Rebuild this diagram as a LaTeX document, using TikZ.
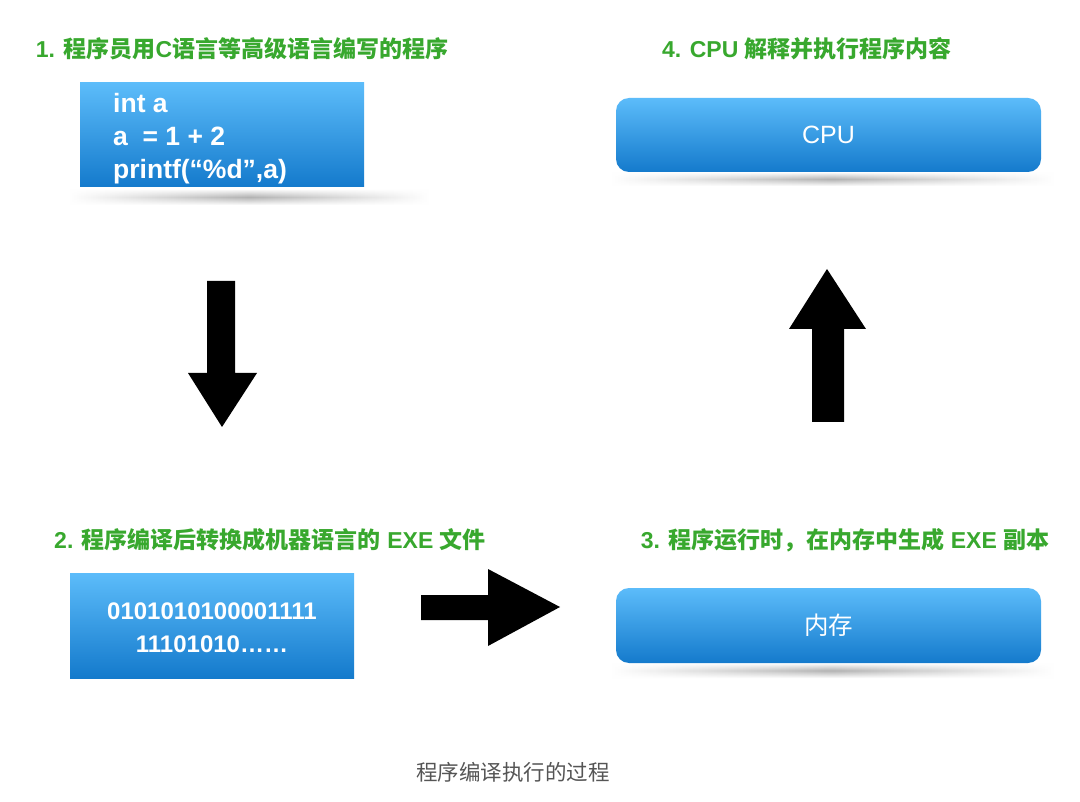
\documentclass[tikz,border=0pt]{standalone}
\usepackage{fontspec}
\setmainfont{Liberation Sans}
\newfontfamily\cjk{Noto Sans CJK SC}
\usetikzlibrary{fadings}
\definecolor{ttl}{RGB}{56,168,46}
\definecolor{btop}{RGB}{92,188,250}
\definecolor{bbot}{RGB}{20,122,204}
\definecolor{capgray}{RGB}{85,85,85}
\newcommand{\zh}[1]{{\cjk #1}}
\tikzfading[name=vfade, top color=transparent!100, bottom color=transparent!100, middle color=transparent!0]
\tikzset{
  title/.style={text=ttl, font=\bfseries\fontsize{23}{27}\selectfont, inner sep=0pt},
  bluebox/.style={top color=btop, bottom color=bbot, draw=none, text=white, inner sep=0pt},
  codebox/.style={bluebox, minimum width=284pt, minimum height=104pt},
  codetext/.style={text=white, inner sep=0pt, font=\bfseries\fontsize{26.5}{33}\selectfont, align=left},
  binbox/.style={bluebox, minimum width=284pt, minimum height=105pt},
  bintext/.style={text=white, inner sep=0pt, font=\bfseries\fontsize{24}{33}\selectfont, align=center},
  roundbox/.style={bluebox, rounded corners=13pt, minimum width=425pt, minimum height=74pt, font=\fontsize{25}{28}\selectfont},
  blockarrow/.style={fill=black, draw=none},
  shadowstrip/.style={left color=white, right color=white, middle color=black!30, draw=none, path fading=vfade}
}
\begin{document}
\begin{tikzpicture}[x=1pt,y=-1pt]
\useasboundingbox (0,0) rectangle (1080,802);
\fill[white] (0,0) rectangle (1080,802);

% titles
\node[title] (t1) at (242,49) {1. \zh{程序员用}C\zh{语言等高级语言编写的程序}};
\node[title] (t4) at (807,49) {4. CPU \zh{解释并执行程序内容}};
\node[title] (t2) at (270,540) {2. \zh{程序编译后转换成机器语言的} EXE \zh{文件}};
\node[title] (t3) at (845,540) {3. \zh{程序运行时，在内存中生成} EXE \zh{副本}};

% shadows
\shade[shadowstrip] (68,189) rectangle (430,205);
\shade[shadowstrip] (610,172) rectangle (1055,186);
\shade[shadowstrip] (610,663) rectangle (1055,678);

% boxes
\node[codebox] (code) at (222,135) {};
\node[codetext, anchor=west] (codetxt) at (113,138.5) {int a\\a\ \ = 1 + 2\\printf(“\%d”,a)};
\node[binbox] (bin) at (212,625.5) {};
\node[bintext] (bintxt) at (212,628) {0101010100001111\\11101010……};
\node[roundbox] (cpu) at (828.5,135) {CPU};
\node[roundbox, minimum height=75pt, font=\cjk\fontsize{24.5}{28}\selectfont] (mem) at (828.5,625.5) {内存};

% block arrows
\fill[blockarrow] (207,281) -- (235,281) -- (235,373) -- (257,373) -- (222,427) -- (188,373) -- (207,373) -- cycle;
\fill[blockarrow] (421,595) -- (488,595) -- (488,569) -- (560,607) -- (488,646) -- (488,620) -- (421,620) -- cycle;
\fill[blockarrow] (812,422) -- (844,422) -- (844,329) -- (866,329) -- (827,269) -- (789,329) -- (812,329) -- cycle;

% caption
\node[text=capgray, font=\cjk\fontsize{21.5}{25}\selectfont, inner sep=0pt] (cap) at (513,772) {程序编译执行的过程};
\end{tikzpicture}
\end{document}
